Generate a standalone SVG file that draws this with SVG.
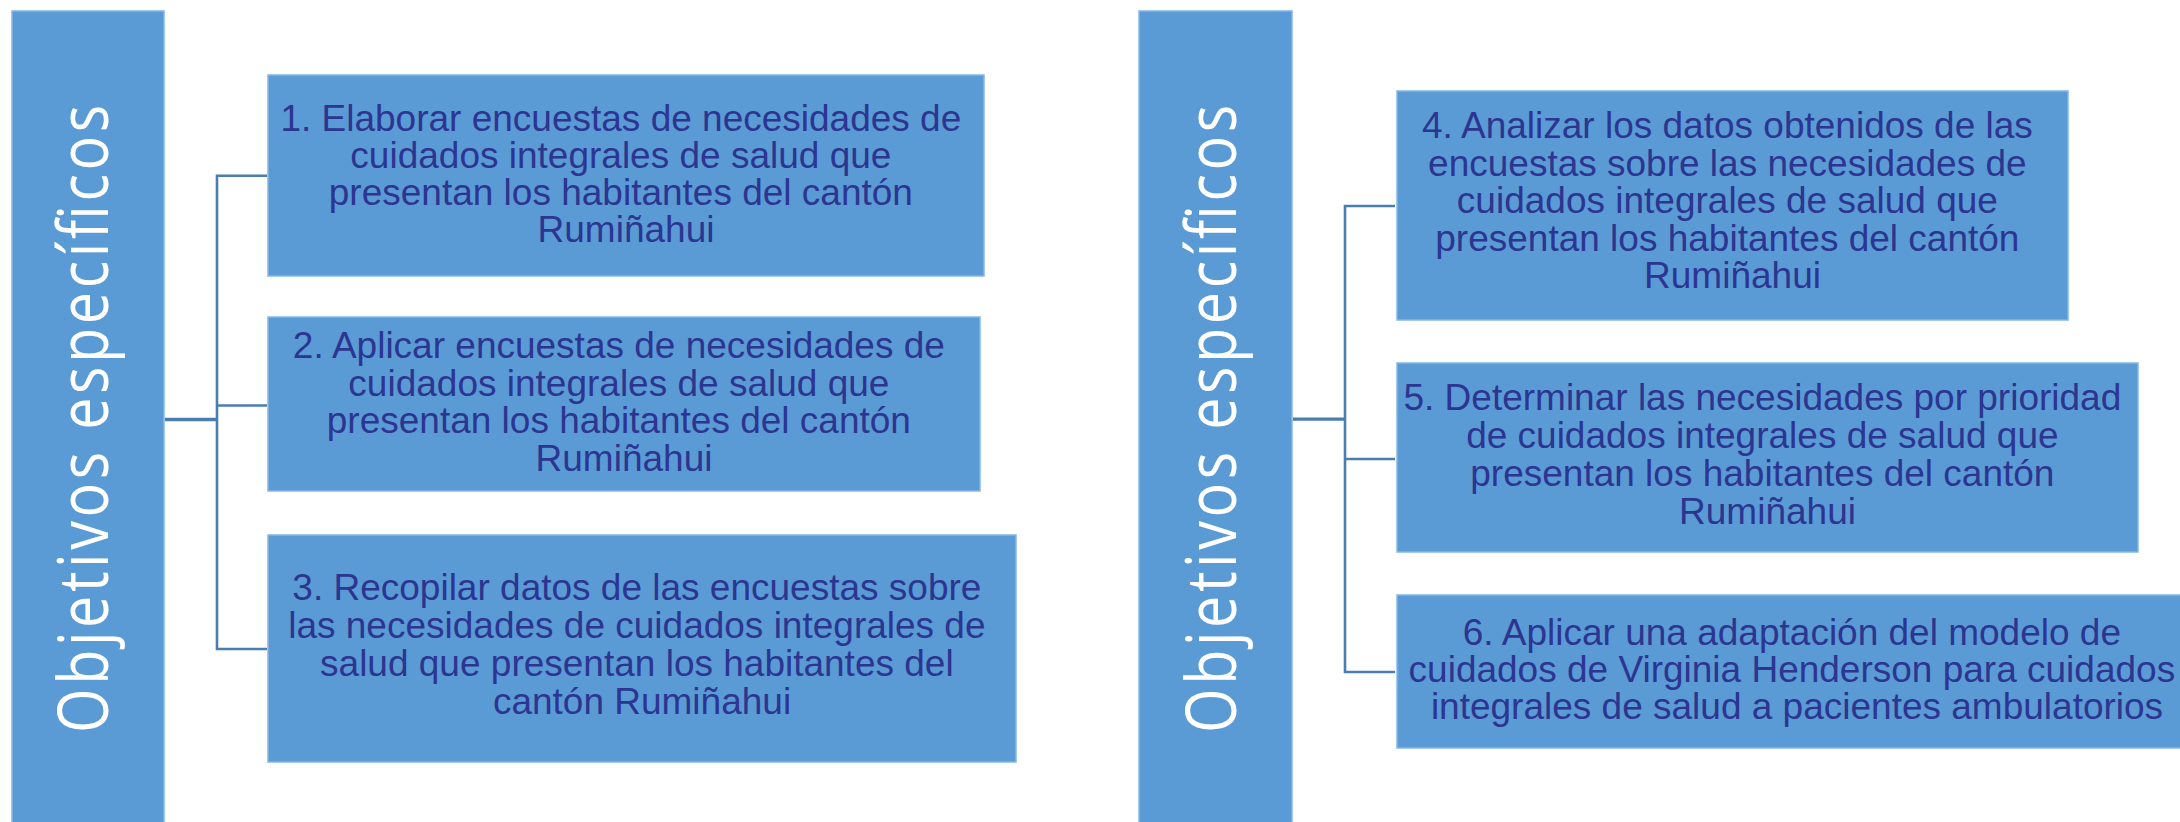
<svg xmlns="http://www.w3.org/2000/svg" width="2180" height="822" viewBox="0 0 2180 822">
<style>
  .box { fill: #5B9BD5; stroke: #86B6E3; stroke-width: 1.5; }
  .bar { fill: #5B9BD5; stroke: #86B6E3; stroke-width: 1.5; }
  .lbl { font-family: "Liberation Sans", Arial, sans-serif; font-size: 37px; fill: #2C3590; text-anchor: middle; }
  .title { font-family: "Open Sans", "DejaVu Sans", sans-serif; font-size: 70px; font-weight: 400; fill: #FFFFFF; text-anchor: middle; }
  .conn { fill: none; stroke: #4A7DB0; stroke-width: 2.6; }
  .main { fill: none; stroke: #4A7DB0; stroke-width: 3.3; }
</style>
<rect width="2180" height="822" fill="#FFFFFF"/>

<g id="connectors">
  <path class="main" d="M165 419.5 H217"/>
  <path class="conn" d="M267 175.8 H217 V649 H267 M217 405.5 H267"/>
  <path class="main" d="M1293 419.2 H1345"/>
  <path class="conn" d="M1395 206 H1345 V672 H1395 M1345 459 H1395"/>
</g>

<g id="title-left">
  <rect class="bar" x="12" y="11" width="152" height="820"/>
  <text class="title" transform="translate(108,419) rotate(-90) scale(0.82,1)" x="0" y="0" textLength="766" lengthAdjust="spacing">Objetivos específicos</text>
</g>

<g id="node1">
  <rect class="box" x="268" y="75" width="716" height="201"/>
  <text class="lbl">
    <tspan x="626" y="131">1. Elaborar encuestas de necesidades de</tspan>
    <tspan x="626" y="168">cuidados integrales de salud que</tspan>
    <tspan x="626" y="205">presentan los habitantes del cantón</tspan>
    <tspan x="626" y="242">Rumiñahui</tspan>
  </text>
</g>

<g id="node2">
  <rect class="box" x="268" y="317" width="712" height="174"/>
  <text class="lbl">
    <tspan x="624" y="358">2. Aplicar encuestas de necesidades de</tspan>
    <tspan x="624" y="396">cuidados integrales de salud que</tspan>
    <tspan x="624" y="433">presentan los habitantes del cantón</tspan>
    <tspan x="624" y="471">Rumiñahui</tspan>
  </text>
</g>

<g id="node3">
  <rect class="box" x="268" y="535" width="748" height="227"/>
  <text class="lbl">
    <tspan x="642" y="600">3. Recopilar datos de las encuestas sobre</tspan>
    <tspan x="642" y="638">las necesidades de cuidados integrales de</tspan>
    <tspan x="642" y="676">salud que presentan los habitantes del</tspan>
    <tspan x="642" y="714">cantón Rumiñahui</tspan>
  </text>
</g>

<g id="title-right">
  <rect class="bar" x="1139" y="11" width="153" height="820"/>
  <text class="title" transform="translate(1236,419) rotate(-90) scale(0.82,1)" x="0" y="0" textLength="766" lengthAdjust="spacing">Objetivos específicos</text>
</g>

<g id="node4">
  <rect class="box" x="1397" y="91" width="671" height="229"/>
  <text class="lbl">
    <tspan x="1732.5" y="138">4. Analizar los datos obtenidos de las</tspan>
    <tspan x="1732.5" y="175.5">encuestas sobre las necesidades de</tspan>
    <tspan x="1732.5" y="213">cuidados integrales de salud que</tspan>
    <tspan x="1732.5" y="250.5">presentan los habitantes del cantón</tspan>
    <tspan x="1732.5" y="288">Rumiñahui</tspan>
  </text>
</g>

<g id="node5">
  <rect class="box" x="1397" y="363" width="741" height="189"/>
  <text class="lbl">
    <tspan x="1767.5" y="410">5. Determinar las necesidades por prioridad</tspan>
    <tspan x="1767.5" y="448">de cuidados integrales de salud que</tspan>
    <tspan x="1767.5" y="486">presentan los habitantes del cantón</tspan>
    <tspan x="1767.5" y="524">Rumiñahui</tspan>
  </text>
</g>

<g id="node6">
  <rect class="box" x="1397" y="595" width="800" height="153"/>
  <text class="lbl">
    <tspan x="1797" y="645">6. Aplicar una adaptación del modelo de</tspan>
    <tspan x="1797" y="682">cuidados de Virginia Henderson para cuidados</tspan>
    <tspan x="1797" y="719">integrales de salud a pacientes ambulatorios</tspan>
  </text>
</g>
</svg>
